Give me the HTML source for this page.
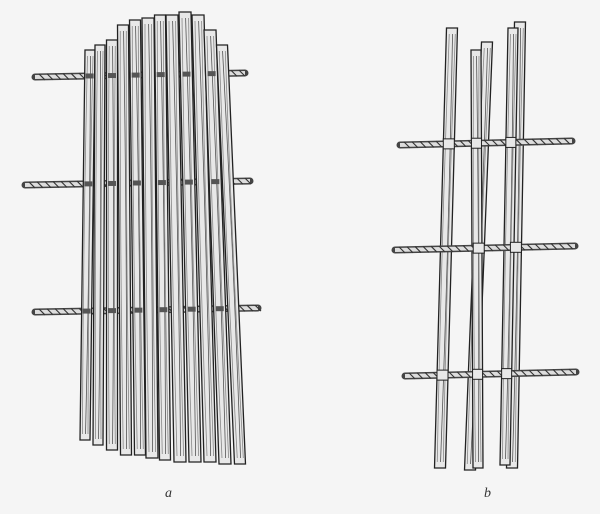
<!DOCTYPE html>
<html><head><meta charset="utf-8">
<style>
html,body{margin:0;padding:0;background:#f5f5f5;}
svg{display:block;}
</style></head>
<body>
<svg id="fig" width="600" height="514" viewBox="0 0 600 514" xmlns="http://www.w3.org/2000/svg">
<rect width="600" height="514" fill="#f5f5f5"/>
<g id="figA"></g>
<g id="figB"></g>
<text x="165" y="497" font-family="Liberation Serif, serif" font-style="italic" font-size="14" fill="#333">a</text>
<text x="484" y="497" font-family="Liberation Serif, serif" font-style="italic" font-size="14" fill="#333">b</text>
</svg>
<script>
const NS="http://www.w3.org/2000/svg";
function mk(tag,attrs,parent){const e=document.createElementNS(NS,tag);for(const k in attrs)e.setAttribute(k,attrs[k]);parent.appendChild(e);return e;}
const A=document.getElementById('figA'), B=document.getElementById('figB');
const stripsA=[[90,50,85,440,10],[100,45,98,445,10],[112,40,112,450,11],[123,25,126,455,11],[135,20,140,455,11],[148,18,152,458,12],[160,15,165,460,11],[172,15,180,462,12],[185,12,195,462,12],[198,15,210,462,12],[210,30,225,464,12],[222,45,240,464,11]];
const cordsA=[[35,245,77],[25,250,185],[35,258,312]];
const rodsB=[[452,28,440,468,11],[487,42,470,470,11],[476,50,478,468,10],[520,22,512,468,11],[513,28,505,465,10]];
const cordsB=[[400,572,145],[395,575,250],[405,576,376]];

function cord(c,parent){
  const g=mk('g',{},parent);
  
  
  mk('line',{x1:c[0],y1:c[2],x2:c[1],y2:c[2]-4,stroke:'#444','stroke-width':7,'stroke-linecap':'round'},g);
  mk('line',{x1:c[0],y1:c[2],x2:c[1],y2:c[2]-4,stroke:'#ddd','stroke-width':4},g);
  for(let x=c[0]+4;x<c[1];x+=8){
    const y=c[2]-4*(x-c[0])/(c[1]-c[0]);
    mk('line',{x1:x,y1:y-3,x2:x+6,y2:y+3,stroke:'#333','stroke-width':1.1},g);
  }
}
function strip(s,parent,name){
  const g=mk('g',{},parent);
  
  
  mk('polygon',{points:`${s[0]-s[4]/2},${s[1]} ${s[0]+s[4]/2},${s[1]} ${s[2]+s[4]/2},${s[3]} ${s[2]-s[4]/2},${s[3]}`,fill:'#e8e8e8',stroke:'#222','stroke-width':1.3},g);
  [-0.25,0.05,0.3].forEach((f,i)=>{
    const ox=f*s[4];
    const mx=(s[0]+s[2])/2+ox+(i%2?2:-2), my=(s[1]+s[3])/2;
    mk('path',{d:`M${s[0]+ox},${s[1]+6} Q${mx},${my} ${s[2]+ox},${s[3]-6}`,fill:'none',stroke:i==1?'#555':'#888','stroke-width':0.8},g);
  });
}
// figure a: cords behind strips, then strips, then small visible cord pieces
cordsA.forEach(c=>cord(c,A));
stripsA.forEach(s=>strip(s,A,'strip'));
cordsA.forEach(c=>{
  stripsA.forEach((s,i)=>{
    if(i%2) return;
    const t=(c[2]-s[1])/(s[3]-s[1]);
    const x=s[0]+(s[2]-s[0])*t;
    const y=c[2]-4*(x-c[0])/(c[1]-c[0]);
    const k=mk('line',{x1:x-4,y1:y,x2:x+4,y2:y,stroke:'#555','stroke-width':5},A);
    
    
  });
});
// figure b
rodsB.forEach(s=>strip(s,B,'rod'));
cordsB.forEach(c=>cord(c,B));
cordsB.forEach((c,ci)=>{
  rodsB.forEach((s,i)=>{
    if((i+ci)%2) return;
    const t=(c[2]-s[1])/(s[3]-s[1]);
    const x=s[0]+(s[2]-s[0])*t;
    const y=c[2]-4*(x-c[0])/(c[1]-c[0]);
    const k=mk('rect',{x:x-s[4]/2,y:y-5,width:s[4],height:10,fill:'#e8e8e8',stroke:'#222','stroke-width':1},B);
    
    
  });
});
</script>
</body></html>
